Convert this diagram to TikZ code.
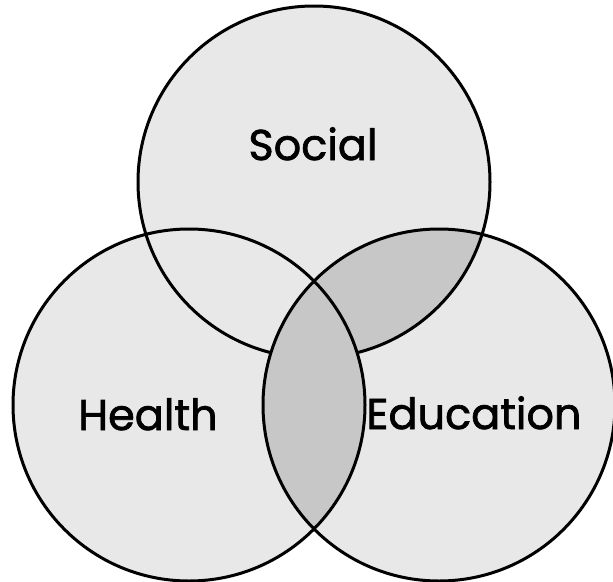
\documentclass[tikz,border=0pt]{standalone}
\usepackage{fontspec}
\newfontfamily\vennfont[FakeBold=1.6]{Poppins}
\tikzset{
  lightfill/.style={fill=black!9},
  darkfill/.style={fill=black!22},
  ring/.style={draw=black, line width=3pt},
  vlabel/.style={font=\vennfont\fontsize{43}{43}\selectfont, text=black, inner sep=0pt, anchor=base}
}
\begin{document}
\begin{tikzpicture}[x=1pt,y=-1pt]
\useasboundingbox (0,0) rectangle (613,581);
\coordinate (cS) at (314,182);
\coordinate (cH) at (189,405);
\coordinate (cE) at (439,405);
% base fills
\fill[lightfill] (cS) circle[radius=176pt];
\fill[lightfill] (cH) circle[radius=176pt];
\fill[lightfill] (cE) circle[radius=176pt];
% darker Social & Education overlap
\begin{scope}
  \clip (cS) circle[radius=176pt];
  \fill[darkfill] (cE) circle[radius=176pt];
\end{scope}
% top outline
\draw[ring] (cS) circle[radius=176pt];
% darker Health & Education lens (hides the top outline inside it)
\begin{scope}
  \clip (cH) circle[radius=176pt];
  \fill[darkfill] (cE) circle[radius=176pt];
\end{scope}
\draw[ring] (cH) circle[radius=176pt];
\draw[ring] (cE) circle[radius=176pt];
% labels
\node[vlabel] (social) at (313,160) {Social};
\node[vlabel] (health) at (148,430) {Health};
\node[vlabel] (education) at (474,429) {Education};
\end{tikzpicture}
\end{document}
